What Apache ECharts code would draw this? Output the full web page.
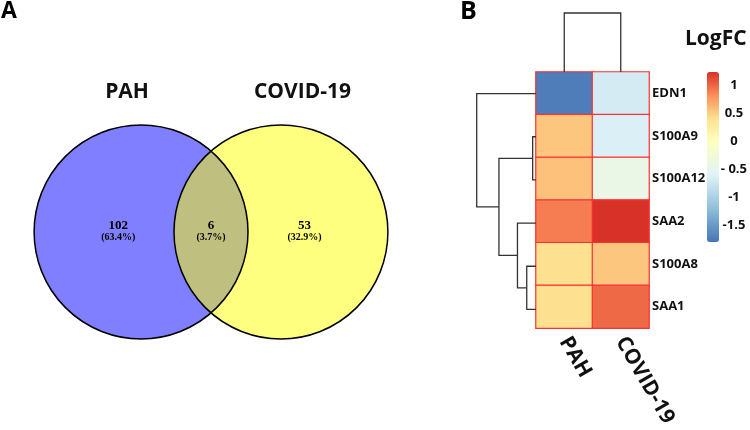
<!DOCTYPE html>
<html>
<head>
<meta charset="utf-8">
<script src="https://cdn.jsdelivr.net/npm/echarts@6/dist/echarts.min.js"></script>
<style>
html,body{margin:0;padding:0;background:#fff}
#main{width:750px;height:430px}
</style>
</head>
<body>
<div id="main"></div>
<script>
// venn
var vennSets = ['PAH', 'COVID-19'];
var vennCounts = [102, 6, 53];
var vennPercents = ['63.4%', '3.7%', '32.9%'];

// heatmap (logFC)
var genes = ['EDN1', 'S100A9', 'S100A12', 'SAA2', 'S100A8', 'SAA1'];
var groups = ['PAH', 'COVID-19'];
var logfcPAH = [-1.72, 0.54, 0.56, 0.89, 0.40, 0.40];
var logfcCOVID = [-0.69, -0.64, -0.41, 1.22, 0.54, 0.98];
var scaleTicks = [1, 0.5, 0, -0.5, -1, -1.5];
var scaleLabels = ['1', '0.5', '0', '- 0.5', '-1', '-1.5'];

// dendrograms, hclust style: negative = leaf (1-based), positive = earlier merge
var rowMerge = [[-2, -3, 0.18], [-5, -6, 0.5], [-4, 2, 1.0], [1, 3, 2.0], [-1, 4, 3.2]];
var colMerge = [[-1, -2, 1]];

var FONT = '"Open Sans", sans-serif';
var scaleMin = -1.79, scaleMax = 1.23;

function dendroSegments(merge) {
  var pos = [], hgt = [], out = [];
  merge.forEach(function (m) {
    var a = m[0] < 0 ? -m[0] - 1 : pos[m[0] - 1];
    var b = m[1] < 0 ? -m[1] - 1 : pos[m[1] - 1];
    var ha = m[0] < 0 ? 0 : hgt[m[0] - 1];
    var hb = m[1] < 0 ? 0 : hgt[m[1] - 1];
    pos.push((a + b) / 2);
    hgt.push(m[2]);
    out.push([a, b, ha, hb, m[2]]);
  });
  return out;
}

// colour ramp (RdYlBu) with the pale yellow sitting on 0
function ramp(n) {
  var stops = [[-1.79, '#4575b4'], [-1.19, '#91bfdb'], [-0.6, '#e0f3f8'], [0, '#ffffbf'],
               [0.41, '#fee090'], [0.82, '#fc8d59'], [1.23, '#d73027']];
  function hex(c) { return [1, 3, 5].map(function (i) { return parseInt(c.substr(i, 2), 16); }); }
  var res = [];
  for (var k = 0; k < n; k++) {
    var v = scaleMin + (scaleMax - scaleMin) * k / (n - 1);
    var j = 0;
    while (j < stops.length - 2 && v > stops[j + 1][0]) j++;
    var t = (v - stops[j][0]) / (stops[j + 1][0] - stops[j][0]);
    t = Math.max(0, Math.min(1, t));
    var c1 = hex(stops[j][1]), c2 = hex(stops[j + 1][1]);
    res.push('rgb(' + c1.map(function (x, i) { return Math.round(x + (c2[i] - x) * t); }).join(',') + ')');
  }
  return res;
}

var heatData = [];
genes.forEach(function (g, i) {
  heatData.push([0, i, logfcPAH[i]]);
  heatData.push([1, i, logfcCOVID[i]]);
});

var chart = echarts.init(document.getElementById('main'));
var hidden = {show: false};
var vennFill = ['rgba(0,0,255,0.5)', 'rgba(255,255,0,0.5)'];

var option = {
  animation: false,
  title: [
    {text: 'A', left: 1, top: 0, padding: 0, textStyle: {fontFamily: FONT, fontSize: 23, fontWeight: 'bold', color: '#000'}},
    {text: 'B', left: 460, top: -1, padding: 0, textStyle: {fontFamily: FONT, fontSize: 25, fontWeight: 'bold', color: '#000'}},
    {text: 'LogFC', left: 685, top: 29, padding: 0, textStyle: {fontFamily: FONT, fontSize: 21, fontWeight: 'bold', color: '#111'}}
  ],
  grid: [
    {left: 11, top: 42, width: 400, height: 380},      // venn
    {left: 536, top: 72, width: 113, height: 259},     // heatmap
    {left: 476.7, top: 72, width: 59.3, height: 259},  // row dendrogram
    {left: 536, top: 13, width: 113, height: 59},      // col dendrogram
    {left: 707, top: 72, width: 12, height: 170}       // colour bar labels
  ],
  xAxis: [
    {gridIndex: 0, type: 'value', min: -1.87, max: 1.87, show: false},
    {gridIndex: 1, type: 'category', data: groups, position: 'bottom',
      axisLine: hidden, axisTick: hidden, splitLine: hidden,
      axisLabel: {rotate: -60, margin: 10, interval: 0, fontFamily: FONT, fontSize: 21, fontWeight: 'bold', color: '#111'}},
    {gridIndex: 2, type: 'value', min: 0, max: 3.2, inverse: true, show: false},
    {gridIndex: 3, type: 'value', min: -0.5, max: 1.5, show: false},
    {gridIndex: 4, type: 'value', min: 0, max: 1, show: false}
  ],
  yAxis: [
    {gridIndex: 0, type: 'value', min: -1.776, max: 1.776, show: false},
    {gridIndex: 1, type: 'category', data: genes, inverse: true, position: 'right',
      axisLine: hidden, axisTick: hidden, splitLine: hidden,
      axisLabel: {margin: 3, fontFamily: FONT, fontSize: 13, fontWeight: 'bold', color: '#111'}},
    {gridIndex: 2, type: 'value', min: -0.5, max: 5.5, inverse: true, show: false},
    {gridIndex: 3, type: 'value', min: 0, max: 1, show: false},
    {gridIndex: 4, type: 'value', min: scaleMin, max: scaleMax, position: 'right',
      axisLine: hidden, axisTick: hidden, splitLine: hidden,
      axisLabel: {customValues: scaleTicks, margin: 16, align: 'center', fontFamily: FONT, fontSize: 13, fontWeight: 'bold', color: '#111',
        formatter: function (v) { var i = scaleTicks.indexOf(v); return i < 0 ? '' : scaleLabels[i]; }}}
  ],
  visualMap: {
    type: 'continuous', seriesIndex: 4, min: scaleMin, max: scaleMax,
    calculable: false, orient: 'vertical', left: 707, top: 72, padding: 0,
    itemWidth: 12, itemHeight: 170, text: null, showLabel: false,
    inRange: {color: ramp(61)}
  },
  series: [
    // venn fills
    {type: 'custom', xAxisIndex: 0, yAxisIndex: 0, silent: true,
      data: [[-0.654, 0, 1], [0.654, 0, 1]],
      renderItem: function (params, api) {
        var c = api.coord([api.value(0), api.value(1)]);
        var r = api.size([api.value(2), 0])[0];
        return {type: 'circle', shape: {cx: c[0], cy: c[1], r: r}, style: {fill: vennFill[params.dataIndex]}};
      }},
    // venn outlines
    {type: 'custom', xAxisIndex: 0, yAxisIndex: 0, silent: true,
      data: [[-0.654, 0, 1], [0.654, 0, 1]],
      renderItem: function (params, api) {
        var c = api.coord([api.value(0), api.value(1)]);
        var r = api.size([api.value(2), 0])[0];
        return {type: 'circle', shape: {cx: c[0], cy: c[1], r: r}, style: {fill: null, stroke: '#000', lineWidth: 1.5}};
      }},
    // venn set names
    {type: 'custom', xAxisIndex: 0, yAxisIndex: 0, silent: true,
      data: [[-0.785, 1.313], [0.855, 1.313]],
      renderItem: function (params, api) {
        var c = api.coord([api.value(0), api.value(1)]);
        return {type: 'text', x: c[0], y: c[1], style: {text: vennSets[params.dataIndex], align: 'center', verticalAlign: 'middle',
          font: 'bold 21px ' + FONT, fill: '#111'}};
      }},
    // venn region counts
    {type: 'custom', xAxisIndex: 0, yAxisIndex: 0, silent: true,
      data: [[-0.867, 0], [0, 0], [0.874, 0]],
      renderItem: function (params, api) {
        var c = api.coord([api.value(0), api.value(1)]);
        var i = params.dataIndex;
        return {type: 'group', children: [
          {type: 'text', x: c[0], y: c[1] - 6, style: {text: String(vennCounts[i]), align: 'center', verticalAlign: 'middle',
            font: 'bold 13px "Liberation Serif", serif', fill: '#000'}},
          {type: 'text', x: c[0], y: c[1] + 5, style: {text: '(' + vennPercents[i] + ')', align: 'center', verticalAlign: 'middle',
            font: 'bold 10px "Liberation Serif", serif', fill: '#000'}}
        ]};
      }},
    // heatmap
    {type: 'heatmap', xAxisIndex: 1, yAxisIndex: 1, data: heatData, silent: true,
      itemStyle: {borderColor: '#ff3030', borderWidth: 1.2}},
    // row dendrogram
    {type: 'custom', xAxisIndex: 2, yAxisIndex: 2, silent: true,
      data: dendroSegments(rowMerge),
      renderItem: function (params, api) {
        var a = api.value(0), b = api.value(1), ha = api.value(2), hb = api.value(3), h = api.value(4);
        return {type: 'polyline', shape: {points: [api.coord([ha, a]), api.coord([h, a]), api.coord([h, b]), api.coord([hb, b])]},
          style: {stroke: '#333', lineWidth: 1.3, fill: null}};
      }},
    // column dendrogram
    {type: 'custom', xAxisIndex: 3, yAxisIndex: 3, silent: true,
      data: dendroSegments(colMerge),
      renderItem: function (params, api) {
        var a = api.value(0), b = api.value(1), ha = api.value(2), hb = api.value(3), h = api.value(4);
        return {type: 'polyline', shape: {points: [api.coord([a, ha]), api.coord([a, h]), api.coord([b, h]), api.coord([b, hb])]},
          style: {stroke: '#333', lineWidth: 1.3, fill: null}};
      }}
  ]
};
chart.setOption(option);
</script>
</body>
</html>
